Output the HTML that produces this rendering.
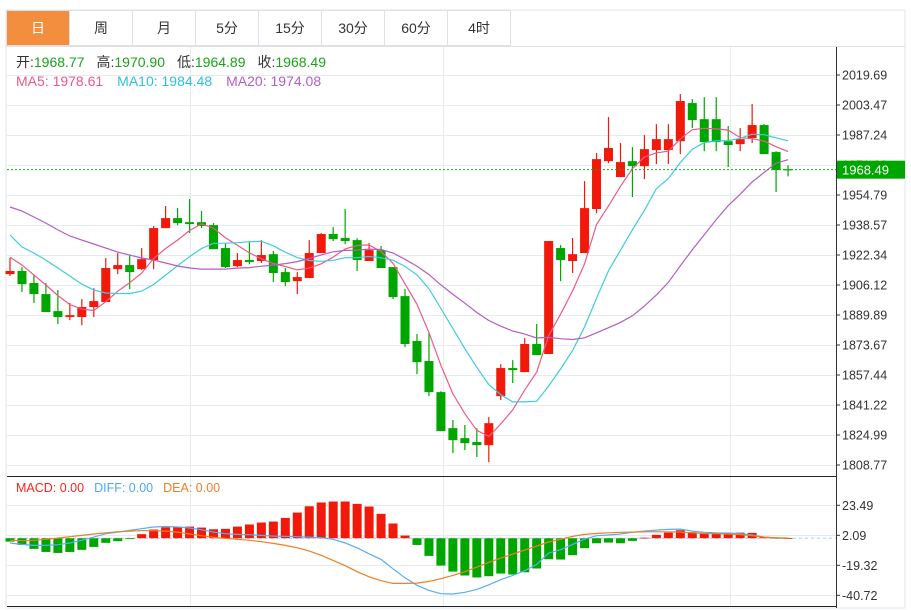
<!DOCTYPE html>
<html><head><meta charset="utf-8"><style>
body{margin:0;background:#fff;width:911px;height:610px;overflow:hidden;font-family:"Liberation Sans","Noto Sans CJK SC",sans-serif}
svg{display:block}
text{font-family:"Liberation Sans","Noto Sans CJK SC",sans-serif}
</style></head><body>
<svg id="chart" width="911" height="610" xmlns="http://www.w3.org/2000/svg">
<rect x="6" y="10" width="899" height="598" fill="#fff" stroke="#e3e6ea"/>
<g id="tabs"></g>
<g id="grid"></g>
<g id="candles"></g>
<g id="malines"></g>
<g id="macd"></g>
<g id="axis"></g>
<g font-size="14">
<text x="16" y="67"><tspan fill="#333">开:</tspan><tspan fill="#19a319">1968.77</tspan><tspan fill="#333" dx="12">高:</tspan><tspan fill="#19a319">1970.90</tspan><tspan fill="#333" dx="12">低:</tspan><tspan fill="#19a319">1964.89</tspan><tspan fill="#333" dx="12">收:</tspan><tspan fill="#19a319">1968.49</tspan></text>
<text x="16" y="86"><tspan fill="#ec5a85">MA5: 1978.61</tspan><tspan fill="#2ac3d8" dx="14">MA10: 1984.48</tspan><tspan fill="#b45cc6" dx="14">MA20: 1974.08</tspan></text>
</g>
<g font-size="12.5">
<text x="16" y="492"><tspan fill="#f0281e">MACD: 0.00</tspan><tspan fill="#4ea9f2" dx="10">DIFF: 0.00</tspan><tspan fill="#f07d22" dx="10">DEA: 0.00</tspan></text>
</g>
</svg>
<script>
const opens=[1912.0,1913.7,1907.2,1901.2,1892.0,1888.8,1888.8,1894.2,1896.9,1914.7,1916.9,1914.7,1919.6,1936.9,1942.3,1940.1,1940.1,1938.5,1926.1,1916.3,1919.6,1919.1,1922.8,1913.1,1908.2,1909.9,1923.4,1933.7,1931.5,1930.4,1919.1,1925.0,1915.8,1900.1,1875.8,1865.0,1848.2,1828.7,1823.3,1821.2,1819.5,1846.0,1861.2,1859.0,1874.2,1868.8,1926.1,1919.1,1923.4,1947.2,1973.1,1964.5,1973.1,1970.4,1979.1,1979.1,1983.9,2004.5,1995.8,1995.8,1983.9,1982.3,1985.6,1992.6,1978.0,1968.77];
const closes=[1913.7,1906.6,1901.2,1891.5,1888.8,1889.8,1894.2,1897.4,1915.3,1916.9,1913.1,1920.1,1936.9,1942.3,1939.6,1939.1,1938.0,1925.5,1915.8,1919.6,1918.5,1922.3,1912.6,1907.7,1910.4,1923.4,1933.7,1930.9,1929.9,1919.6,1925.0,1915.3,1899.6,1874.2,1864.4,1848.2,1827.1,1822.2,1820.6,1819.5,1831.4,1861.2,1860.1,1874.2,1868.2,1929.9,1919.6,1922.8,1947.7,1974.2,1980.2,1972.6,1970.4,1979.6,1985.0,1985.0,2005.6,1995.3,1983.4,1983.4,1981.8,1985.0,1992.6,1976.9,1968.3,1968.49];
const highs=[1920.7,1915.8,1911.5,1907.2,1903.4,1896.4,1898.5,1904.4,1920.7,1923.4,1922.3,1926.1,1938.0,1948.8,1947.7,1952.6,1946.1,1939.6,1928.8,1923.4,1929.3,1930.4,1924.5,1915.3,1913.1,1930.4,1934.2,1937.4,1947.2,1931.5,1928.8,1927.2,1915.8,1903.9,1879.6,1880.7,1848.7,1833.1,1830.4,1828.7,1834.7,1863.3,1865.5,1877.4,1885.0,1929.9,1927.7,1931.5,1962.3,1977.5,1996.9,1982.9,1980.7,1987.2,1993.1,1993.1,2009.4,2006.7,2007.7,2007.7,1992.1,1991.0,2004.0,1993.1,1978.5,1970.90];
const lows=[1911.0,1902.3,1896.4,1891.5,1885.0,1887.1,1884.4,1888.8,1896.9,1912.0,1903.9,1914.2,1914.7,1936.9,1938.5,1934.2,1936.9,1925.5,1915.3,1915.8,1917.4,1918.0,1907.7,1905.5,1901.2,1909.9,1923.4,1929.9,1928.2,1913.7,1919.1,1915.3,1898.5,1872.5,1857.9,1846.0,1827.1,1815.2,1816.8,1813.1,1810.3,1843.9,1853.1,1859.0,1868.2,1868.8,1908.2,1912.6,1923.4,1945.0,1972.0,1964.5,1953.7,1963.4,1971.5,1971.5,1976.9,1991.0,1978.5,1978.5,1969.9,1978.5,1982.9,1976.9,1956.4,1964.89];
const ma5Head=[1921.2,1916.9,1911.5,1906.1];
const ma10Head=[1933.1,1926.7,1923.4,1919.6,1915.3,1911.0,1906.6,1903.4,1901.8];
const ma20Head=[1948.3,1946.1,1942.9,1939.6,1935.9,1932.6,1930.4,1928.3,1926.1,1923.9,1922.3,1920.7,1919.6,1918.0,1916.4,1915.3,1914.7,1914.7,1914.7];
const macdBars=[-2.4,-4.8,-7.6,-9.8,-10.5,-9.8,-8.3,-6.2,-3.3,-2.1,-0.4,2.9,6.2,7.8,8.3,8.3,7.6,6.4,6.7,8.3,9.8,11.2,11.9,14.5,18.3,22.8,25.5,26.2,26.2,24.5,22.6,17.4,10.5,1.9,-4.8,-12.6,-19.5,-23.8,-26.6,-28.0,-27.1,-25.2,-25.9,-24.3,-21.6,-15.0,-15.2,-12.1,-7.1,-3.6,-3.1,-3.6,-1.9,0.4,2.4,4.0,5.7,4.3,3.3,3.6,3.6,4.0,3.8,1.0,0.3,0.0];
const diffVals=[-3.4,-4.4,-5.1,-5.1,-4.6,-3.4,-1.5,0.8,3.2,4.4,5.6,6.8,8.0,8.4,8.0,7.3,6.1,4.4,3.2,2.7,2.5,2.0,1.5,1.3,1.1,0.8,0.4,-0.8,-3.4,-6.8,-11.1,-15.1,-21.8,-28.2,-33.6,-37.2,-39.6,-39.8,-38.6,-36.5,-33.2,-29.6,-26.5,-23.2,-18.7,-10.6,-8.2,-4.4,-0.6,1.8,2.3,3.0,4.2,5.1,5.8,6.3,6.5,5.1,4.2,3.9,3.7,3.2,2.3,0.8,0.1,0.1];
const deaVals=[-1.5,-1.8,-1.5,-0.8,0.1,1.1,2.0,3.0,3.9,4.6,5.1,5.4,5.4,5.1,4.4,3.0,1.8,0.6,-0.1,-0.8,-1.5,-2.5,-3.7,-5.1,-6.8,-9.2,-12.2,-15.8,-19.6,-23.9,-27.5,-30.3,-32.2,-32.2,-32.0,-30.8,-28.9,-26.5,-23.9,-20.6,-17.2,-14.2,-11.3,-8.4,-5.6,-2.7,-0.8,1.3,2.7,3.4,3.9,4.2,4.4,4.6,4.6,4.6,4.4,3.9,3.4,3.2,3.0,2.5,1.8,0.8,0.4,0.1];
const priceTicks=[2019.69,2003.47,1987.24,1971.02,1954.79,1938.57,1922.34,1906.12,1889.89,1873.67,1857.44,1841.22,1824.99,1808.77];
const macdTicks=[23.49,2.09,-19.32,-40.72];
const tabLabels=["日","周","月","5分","15分","30分","60分","4时"];
const lastPrice=1968.49;

const NS="http://www.w3.org/2000/svg";
function mk(tag,attrs,parent,txt){const e=document.createElementNS(NS,tag);for(const k in attrs)e.setAttribute(k,attrs[k]);if(txt!==undefined)e.textContent=txt;parent.appendChild(e);return e;}
const xS=i=>10+i*11.97;
const yP=p=>75+(2019.69-p)/(2019.69-1808.77)*390;
const yM=v=>505.3+(23.49-v)/(23.49+40.72)*90;
const UP="#f0190a",DN="#00a600";

const tabs=document.getElementById('tabs');
tabLabels.forEach((t,i)=>{
  const g=mk('g',{},tabs);
  
  
  const x=6+i*63;
  mk('rect',{x:x+0.5,y:10.5,width:63,height:35,fill:i==0?'#f38e3e':'#fff',stroke:'#dde1e6'},g);
  mk('text',{x:x+32,y:33,'text-anchor':'middle','font-size':'14',fill:i==0?'#fff':'#333'},g,t);
});
mk('line',{x1:6,y1:46.5,x2:905,y2:46.5,stroke:'#dde1e6'},tabs);

const grid=document.getElementById('grid');
priceTicks.forEach(p=>{const y=Math.round(yP(p))+0.5;mk('line',{x1:7,y1:y,x2:836,y2:y,stroke:'#e6ebf0'},grid);});
macdTicks.forEach(v=>{const y=Math.round(yM(v))+0.5;mk('line',{x1:7,y1:y,x2:836,y2:y,stroke:'#e6ebf0'},grid);});
[190,443,730].forEach(x=>mk('line',{x1:x+0.5,y1:47,x2:x+0.5,y2:606,stroke:'#e6ebf0'},grid));
mk('line',{x1:7,y1:476.5,x2:836,y2:476.5,stroke:'#222'},grid);
mk('line',{x1:7,y1:606.5,x2:836,y2:606.5,stroke:'#222'},grid);

const cg=document.getElementById('candles');
opens.forEach((o,i)=>{
  const c=closes[i],up=c>=o,col=up?UP:DN,x=xS(i);
  const g=mk('g',{},cg);
  
  
  mk('line',{x1:x,y1:yP(highs[i]),x2:x,y2:yP(lows[i]),stroke:col,'stroke-width':1.2},g);
  const t=yP(Math.max(o,c)),b=yP(Math.min(o,c));
  mk('rect',{x:x-4.5,y:t,width:9,height:Math.max(1.2,b-t),fill:col},g);
});

function ma(n,head){return closes.map((_,i)=>{if(i<n-1)return head[i];let s=0;for(let k=i-n+1;k<=i;k++)s+=closes[k];return s/n;});}
const mg=document.getElementById('malines');
[[5,ma5Head,'#ec5a85','ma5-line'],[10,ma10Head,'#3ccbe0','ma10-line'],[20,ma20Head,'#b45cc6','ma20-line']].forEach(([n,h,col,nm])=>{
  const v=ma(n,h);
  const pl=mk('polyline',{points:v.map((p,i)=>xS(i).toFixed(1)+','+yP(p).toFixed(1)).join(' '),fill:'none',stroke:col,'stroke-width':1.2},mg);
  
  
});
const lp=mk('line',{x1:7,y1:yP(lastPrice),x2:836,y2:yP(lastPrice),stroke:'#19a319','stroke-dasharray':'2,2'},mg);



const mcg=document.getElementById('macd');
const z=yM(0);
mk('line',{x1:7,y1:z,x2:836,y2:z,stroke:'#bfe0ef','stroke-dasharray':'3,3','stroke-width':1.5},mcg);
macdBars.forEach((v,i)=>{
  const y=yM(v);
  const r=mk('rect',{x:xS(i)-4.5,y:Math.min(y,z),width:9,height:Math.max(0.8,Math.abs(y-z)),fill:v>=0?UP:DN},mcg);
  
  
});
[[diffVals,'#55aef5','diff-line'],[deaVals,'#f07d22','dea-line']].forEach(([arr,col,nm])=>{
  const pl=mk('polyline',{points:arr.map((v,i)=>xS(i).toFixed(1)+','+yM(v).toFixed(1)).join(' '),fill:'none',stroke:col,'stroke-width':1.2},mcg);
  
  
});

const ax=document.getElementById('axis');
mk('line',{x1:836.5,y1:47,x2:836.5,y2:608,stroke:'#333'},ax);
priceTicks.forEach(p=>{const y=yP(p);mk('line',{x1:836,y1:y,x2:840,y2:y,stroke:'#333'},ax);
  const t=mk('text',{x:842,y:y+4.5,'font-size':'12.5',fill:'#333'},ax,p.toFixed(2));
  
  });
macdTicks.forEach(v=>{const y=yM(v);mk('line',{x1:836,y1:y,x2:840,y2:y,stroke:'#333'},ax);
  const t=mk('text',{x:842,y:y+4.5,'font-size':'12.5',fill:'#333'},ax,v.toFixed(2));
  
  });
const ly=yP(lastPrice);
const box=mk('g',{},ax);


mk('rect',{x:837,y:ly-9,width:68,height:18,fill:'#00a600'},box);
mk('text',{x:842,y:ly+5,'font-size':'13',fill:'#fff'},box,lastPrice.toFixed(2));
</script>
</body></html>
